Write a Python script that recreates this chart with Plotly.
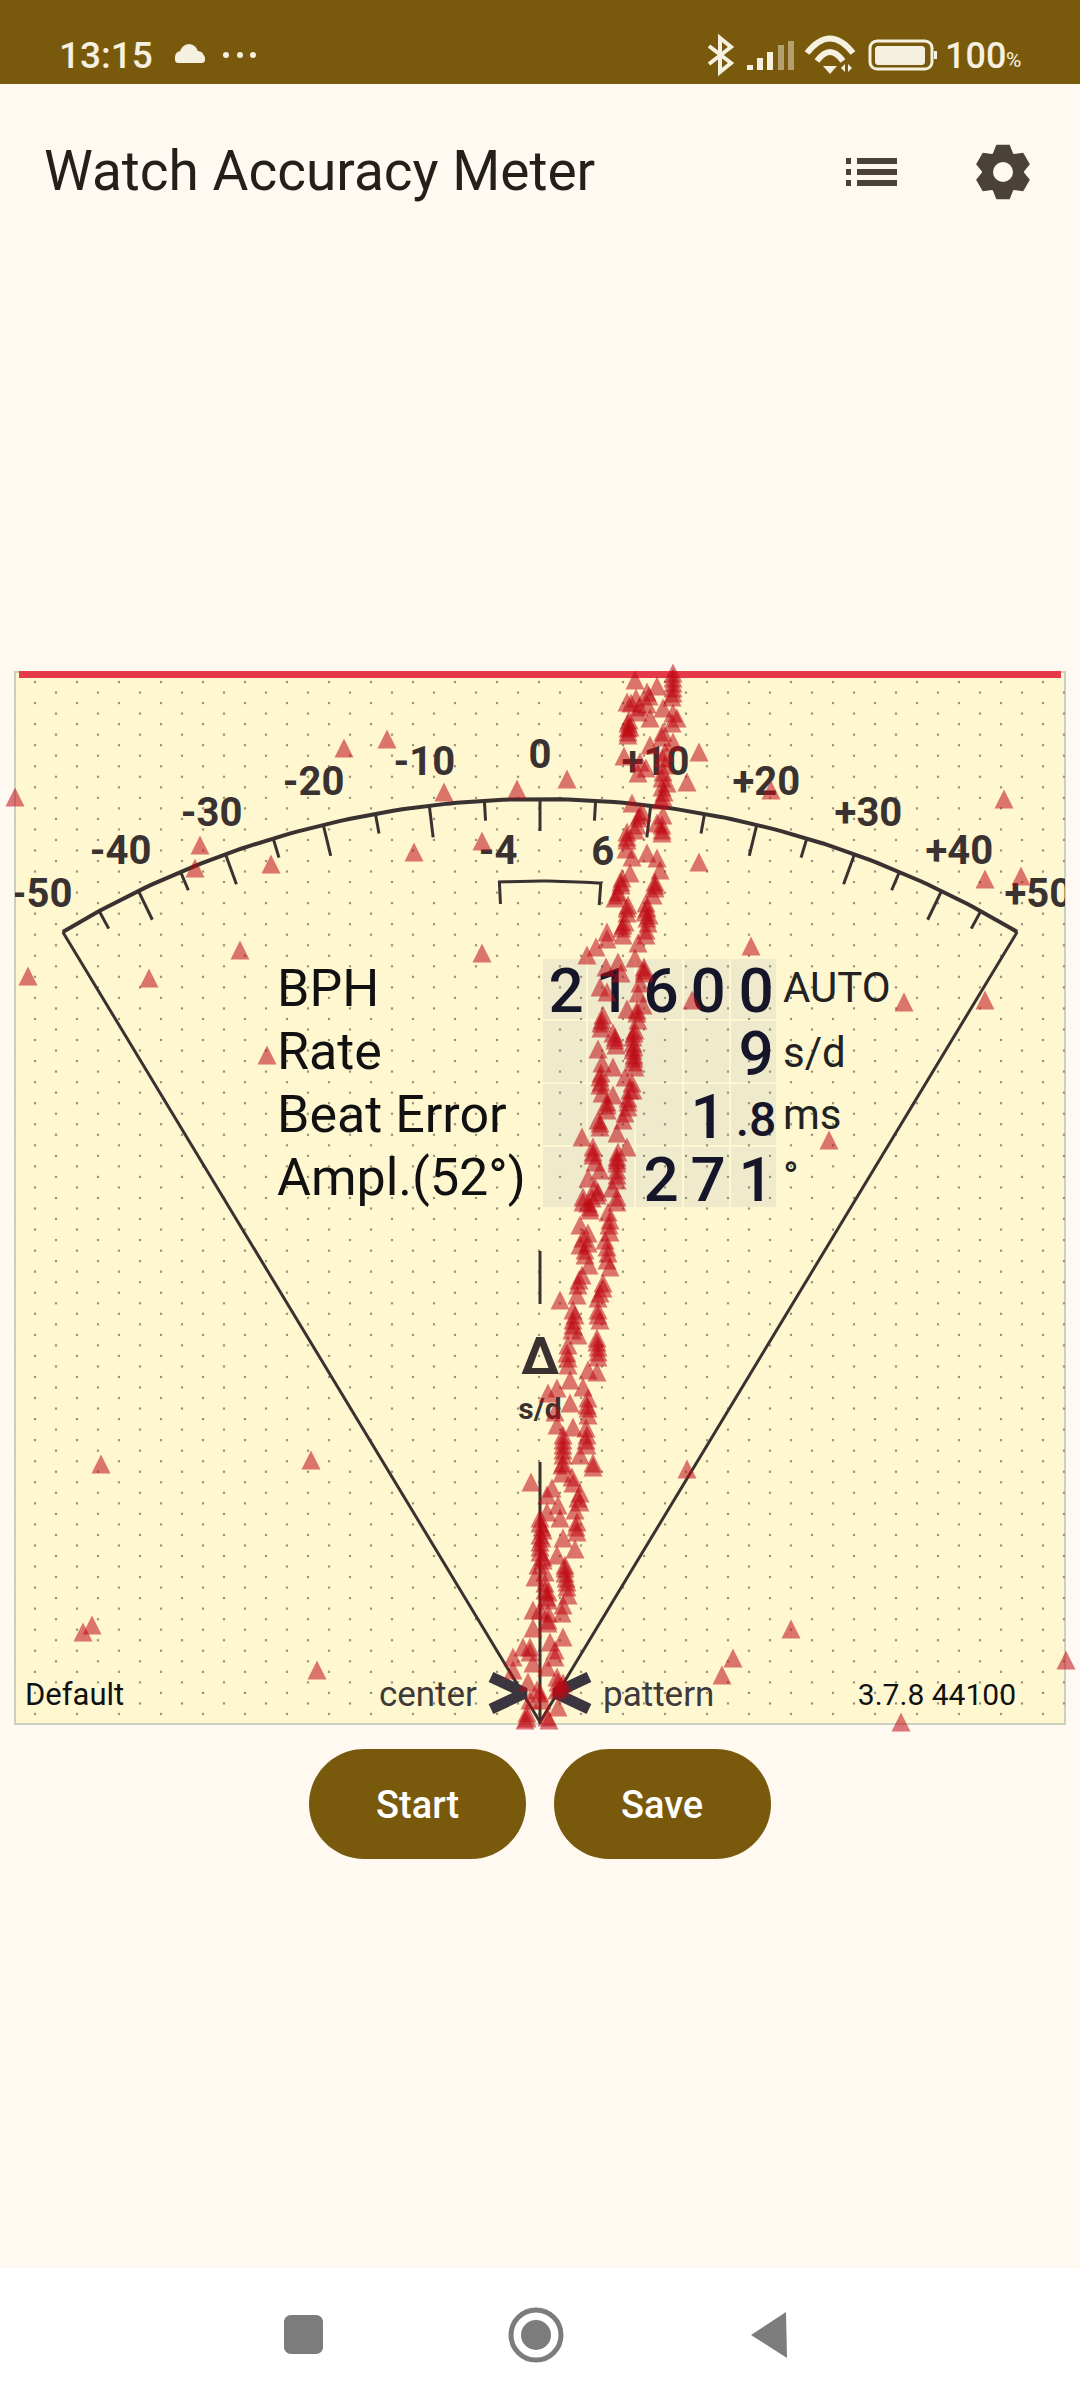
import numpy as np
import plotly.graph_objects as go

# beat marks: offset from the centre line, height above the strip bottom
beat_x = [95,107,117,133,133,133,132,96,87,91,109,107,99,98,110,123,133,137,132,89,88,90,88,123,122,133,110,84,100,106,98,123,125,123,122,127,147,159,27,92,123,121,102,98,97,123,117,122,122,87,87,86,107,92,117,120,90,82,81,78,75,115,115,113,106,105,109,88,87,85,108,82,106,67,159,
          47,56,67,83,106,98,78,95,66,81,104,104,100,98,60,67,87,103,97,98,63,61,61,73,75,76,95,93,93,58,93,94,62,73,95,60,60,85,92,93,62,73,88,67,67,88,85,58,60,83,77,42,53,87,53,55,78,77,60,77,48,77,55,72,77,43,57,
          43,52,50,77,68,70,40,48,70,40,48,65,67,45,67,49,70,42,63,38,37,58,20,33,58,60,33,32,57,38,28,58,27,58,28,48,57,30,43,17,8,48,30,15,48,33,17,23,47,23,47,40,23,53,23,
          53,22,22,32,33,-9,7,12,40,40,18,7,35,20,37,0,3,37,23,2,0,35,17,3,-2,25,5,25,-5,27,5,8,28,-7,8,23,0,8,22,-7,23,10,-17,15,-10,-27,-27,-7,7,-12,17,23,-3,17,-10,2,18,-13,7,-15,9,
          133,133,88,88,125,122,124,100,95,122,87,81,115,78,107,87,107,83,
          104,97,62,75,94,94,94,94,61,61,90,88,67,60,53,77,77,77,58,
          48,50,69,43,45,68,39,63,60,35,58,33,57,58,28,47,48,46,46,23,23,
          0,2,0,0,0,3,25,26,27,5,7,8,8,36,38,-10,15,18,20,0,-13]
beat_y = [1044,1032,1038,1046,1041,1036,1027,1026,1022,1021,1028,1020,1017,1012,1006,1016,1011,1006,1001,1004,996,997,989,992,987,982,979,968,962,956,951,966,959,952,946,941,942,972,945,921,927,924,912,906,899,909,901,899,891,892,884,875,871,867,866,854,851,846,839,832,826,842,836,829,821,812,809,819,811,802,801,796,794,792,862,
          769,777,785,789,789,781,762,766,757,751,757,751,741,731,737,732,715,719,711,704,709,701,696,691,684,679,694,687,681,675,674,666,661,657,657,647,639,647,641,634,631,629,626,622,614,617,611,604,597,604,591,587,577,577,569,562,572,564,554,554,546,544,537,536,527,527,529,
          522,526,514,522,512,504,499,491,492,479,481,484,477,469,464,459,457,449,441,439,429,426,424,414,414,404,404,394,386,389,379,377,371,367,359,354,352,344,337,336,331,326,321,312,309,297,299,289,289,279,279,269,269,261,261,
          257,259,251,247,241,242,229,236,231,222,219,212,214,206,202,201,194,192,186,186,177,175,169,167,159,159,152,151,147,142,141,132,129,114,124,119,114,104,111,96,87,82,77,74,72,67,54,61,57,42,47,41,34,34,24,24,17,11,7,4,4,
          1051,1031,1001,992,972,937,932,909,894,894,887,842,839,829,816,816,806,799,
          754,714,704,687,691,677,669,662,651,642,634,622,619,601,572,567,561,549,532,
          521,517,499,486,474,471,444,436,431,409,409,399,382,372,366,319,316,296,284,284,274,
          206,197,189,182,172,164,156,146,137,134,127,111,101,197,226,77,67,42,37,31,6]

# marks away from the two main strands
stray_x = [-525,-196,-153,-96,-23,231,464,-340,-345,-269,-126,-58,445,481,-300,-58,211,-512,-391,364,445,-273,152,289,-439,-229,147,-448,-457,251,193,182,-223,526,361]
stray_y = [927,976,985,932,935,934,925,879,856,860,872,883,845,848,774,771,778,748,746,722,724,669,724,584,260,264,255,99,92,95,66,49,54,64,2]

# gauge
gauge_labels = [-50,-40,-30,-20,-10,0,10,20,30,40,50]
gauge_minor = [-45,-35,-25,-15,-5,5,15,25,35,45]
gauge_major = [-40,-30,-20,-10,0,10,20,30,40]
bracket_values = [-4, 6]

# read-out table
table_names = ["BPH", "Rate", "Beat Error", "Ampl.(52°)"]
table_units = ["AUTO", "s/d", "ms", "°"]
table_digits = [["2","1","6","0","0"], ["","","","","9"], ["","","","1",""], ["","","2","7","1"]]
small_digit = ".8"

PANEL = "#FFF7D0"
PAGE = "#FFF9F2"
BROWN = "#795A0C"
INK = "#3A3230"
TAN_PER_UNIT = 0.01208
APEX_Y = 2
ROW_Y = [736, 673, 610, 547]
COL_X = [26, 73, 121, 168, 216]


def gauge_xy(rate, r):
    ang = np.arctan(np.asarray(rate, dtype=float) * TAN_PER_UNIT)
    return r * np.sin(ang), APEX_Y + r * np.cos(ang)


def px(x, y):
    return f"{x/1080:.5f},{1-y/2400:.5f}"


def poly(points):
    return "M" + " L".join(px(x, y) for x, y in points) + " Z"


def round_rect(x0, y0, x1, y1, r):
    k = r * 0.45
    return (f"M{px(x0+r,y0)} L{px(x1-r,y0)} C{px(x1-k,y0)} {px(x1,y0+k)} {px(x1,y0+r)} L{px(x1,y1-r)} C{px(x1,y1-k)} {px(x1-k,y1)} {px(x1-r,y1)} "
            f"L{px(x0+r,y1)} C{px(x0+k,y1)} {px(x0,y1-k)} {px(x0,y1-r)} L{px(x0,y0+r)} C{px(x0,y0+k)} {px(x0+k,y0)} {px(x0+r,y0)} Z")


def gear(cx, cy, outer, inner):
    pts = []
    for k in range(6):
        a = np.pi / 3 * k - np.pi / 2
        for da, r in [(-0.50, inner), (-0.24, outer), (0.24, outer), (0.50, inner)]:
            pts.append((cx + r * np.cos(a + da), cy + r * np.sin(a + da)))
    return poly(pts)


shapes = []


def add_path(path, fill=None, line=None, width=0):
    shapes.append(dict(type="path", path=path, xref="paper", yref="paper", layer="below",
                       fillcolor=fill or "rgba(0,0,0,0)", line=dict(color=line or "rgba(0,0,0,0)", width=width)))


def add_circle(cx, cy, rx, ry, fill=None, line=None, width=0):
    shapes.append(dict(type="circle", xref="paper", yref="paper", layer="below",
                       x0=(cx-rx)/1080, x1=(cx+rx)/1080, y0=1-(cy+ry)/2400, y1=1-(cy-ry)/2400,
                       fillcolor=fill or "rgba(0,0,0,0)", line=dict(color=line or "rgba(0,0,0,0)", width=width)))


# page furniture
add_path(poly([(0,0),(1080,0),(1080,84),(0,84)]), BROWN)
add_path(poly([(0,2268),(1080,2268),(1080,2400),(0,2400)]), "#FFFFFF")
add_path(poly([(15,672),(1065,672),(1065,1724),(15,1724)]), PANEL, "#C9D1BF", 2)
add_path(poly([(19,671),(1061,671),(1061,678),(19,678)]), "#E5394A")
cell_x = [542,587,635,683,730,777]
cell_y = [958,1020,1083,1146,1208]
for i in range(5):
    for j in range(4):
        add_path(poly([(cell_x[i]+1,cell_y[j]+1),(cell_x[i+1]-1,cell_y[j]+1),(cell_x[i+1]-1,cell_y[j+1]-1),(cell_x[i]+1,cell_y[j+1]-1)]), "#F0EACD")
add_path(round_rect(309,1749,526,1859,55), BROWN)
add_path(round_rect(554,1749,771,1859,55), BROWN)

# status icons
CREAM = "#F6F0E0"
add_circle(181,57,6,6,CREAM)
add_circle(189,53,9,9,CREAM)
add_circle(198,57,6,6,CREAM)
add_path(round_rect(175,55,205,63,3), CREAM)
for dot in [226,240,253]:
    add_circle(dot,55,3,3,CREAM)
add_path("M"+px(709,46)+" L"+px(731,63)+" L"+px(720,72)+" L"+px(720,38)+" L"+px(731,47)+" L"+px(709,64), None, CREAM, 4)
for x0, top, col in [(747,65,CREAM),(757,58,CREAM),(767,52,CREAM),(778,45,"#B3A06E"),(788,41,"#B3A06E")]:
    add_path(poly([(x0,top),(x0+6,top),(x0+6,70),(x0,70)]), col)
add_path("M"+px(807,53)+" Q"+px(830,24)+" "+px(853,53), None, CREAM, 6)
add_path("M"+px(817,61)+" Q"+px(830,43)+" "+px(843,61), None, CREAM, 6)
add_path(poly([(823,66),(837,66),(830,74)]), CREAM)
add_path(poly([(841,68),(845,64),(845,72)]), CREAM)
add_path(poly([(848,64),(852,68),(848,72)]), CREAM)
add_path(round_rect(870,41,932,69,7), None, CREAM, 3)
add_path(round_rect(875,46,925,65,3), CREAM)
add_path(poly([(934,51),(937,51),(937,59),(934,59)]), CREAM)

# toolbar icons
for ly in [161,172,183]:
    add_path(poly([(846,ly-3),(851,ly-3),(851,ly+3),(846,ly+3)]), "#4A4238")
    add_path(poly([(857,ly-3),(897,ly-3),(897,ly+3),(857,ly+3)]), "#4A4238")
add_path(gear(1003,172,28,21), "#4A4238")
add_circle(1003,172,10,10,PAGE)

# nav icons
GREY = "#7C7C7C"
add_path(round_rect(284,2315,323,2354,7), GREY)
add_circle(536,2335,25,25,None,GREY,5)
add_circle(536,2335,15,15,GREY)
add_path(poly([(751,2335),(786,2312),(787,2358)]), GREY)

fig = go.Figure()

# dot paper of the strip
dot_xs, dot_ys = [], []
for k, row in enumerate(np.arange(682, 1720, 10.53)):
    start = 35 if k % 2 == 0 else 14
    for col in np.arange(start, 1066, 42):
        dot_xs.append(col - 540)
        dot_ys.append(1724 - row)
fig.add_trace(go.Scatter(x=dot_xs, y=dot_ys, mode="markers", marker=dict(color="#98947A", size=2.2, symbol="square"), hoverinfo="skip"))

# sector edges and arc
arc_rates = np.linspace(-50, 50, 121)
arc_x, arc_y = gauge_xy(arc_rates, 923)
fig.add_trace(go.Scatter(x=arc_x, y=arc_y, mode="lines", line=dict(color=INK, width=4), hoverinfo="skip"))
fig.add_trace(go.Scatter(x=[arc_x[0], 0, arc_x[-1]], y=[arc_y[0], APEX_Y, arc_y[-1]], mode="lines", line=dict(color=INK, width=3), hoverinfo="skip"))
for ticks, length in [(gauge_major, 32), (gauge_minor, 20)]:
    tx, ty = [], []
    for t in ticks:
        x0, y0 = gauge_xy(t, 923)
        x1, y1 = gauge_xy(t, 923 - length)
        tx += [x0, x1, None]
        ty += [y0, y1, None]
    fig.add_trace(go.Scatter(x=tx, y=ty, mode="lines", line=dict(color=INK, width=3), hoverinfo="skip"))

# bracket for the -4..6 tolerance
br_rates = np.linspace(bracket_values[0], bracket_values[1], 20)
br_x, br_y = gauge_xy(br_rates, 841)
b0x, b0y = gauge_xy(bracket_values[0], 819)
b1x, b1y = gauge_xy(bracket_values[1], 819)
fig.add_trace(go.Scatter(x=[b0x, *br_x, b1x], y=[b0y, *br_y, b1y], mode="lines", line=dict(color=INK, width=3), hoverinfo="skip"))

# centre line, broken around the delta label
fig.add_trace(go.Scatter(x=[0, 0, None, 0, 0], y=[473, 420, None, 262, 0], mode="lines", line=dict(color=INK, width=3), hoverinfo="skip"))

# center / pattern arrows
fig.add_trace(go.Scatter(x=[-49, -15, -49, None, 49, 15, 49], y=[47, 31, 15, None, 47, 31, 15], mode="lines",
                         line=dict(color="#3B3540", width=11), hoverinfo="skip"))


def panel_text(xs, ys, texts, size, color, pos="middle center", weight=400):
    fig.add_trace(go.Scatter(x=xs, y=ys, text=texts, mode="text", textposition=pos, hoverinfo="skip",
                             textfont=dict(family="Roboto", size=size, color=color, weight=weight)))


# gauge labels get clipped at the strip edge like the original
lx, ly = gauge_xy(gauge_labels, 964)
panel_text(list(lx), list(ly), [f"+{v}" if v > 0 else str(v) for v in gauge_labels], 40, INK, weight=700)
bx, by = gauge_xy(bracket_values, 869)
panel_text(list(bx), list(by), ["-4", "6"], 40, INK, weight=700)

panel_text([-263]*4, [y - 4.5 for y in ROW_Y], table_names, 52, "#111111", "middle right")
panel_text([243]*4, [733, 668, 606, 543], table_units, 42, "#222222", "middle right")
dig_x, dig_y, dig_t = [], [], []
for j, row in enumerate(table_digits):
    for i, d in enumerate(row):
        if d:
            dig_x.append(COL_X[i])
            dig_y.append(ROW_Y[j] - 8)
            dig_t.append(d)
panel_text(dig_x, dig_y, dig_t, 62, "#16162A", weight=500)
panel_text([COL_X[4]], [ROW_Y[2]-10], [small_digit], 48, "#16162A", weight=500)

panel_text([0], [363], ["Δ"], 52, INK, weight=700)
panel_text([0], [313], ["s/d"], 30, INK, weight=700)
panel_text([-515], [27], ["Default"], 31, "#111111", "middle right")
panel_text([-63], [27], ["center"], 35, "#3F3A3A", "middle left")
panel_text([63], [27], ["pattern"], 35, "#3F3A3A", "middle right")
panel_text([476], [27], ["3.7.8 44100"], 30, "#111111", "middle left")

# beat triangles sit above everything and may leave the strip
TRI_W = 9.5
TRI_H = 9.5
for x, y in zip(beat_x + stray_x, beat_y + stray_y):
    fig.add_trace(go.Scatter(x=[x-TRI_W, x+TRI_W, x, x-TRI_W], y=[y-TRI_H, y-TRI_H, y+TRI_H, y-TRI_H], mode="lines",
                             fill="toself", fillcolor="rgba(190,10,20,0.55)", line=dict(width=0), hoverinfo="skip",
                             xaxis="x2", yaxis="y2"))


def note(x, y, text, size, color, anchor="left", weight=400):
    return dict(x=x/1080, y=1-y/2400, xref="paper", yref="paper", text=text, showarrow=False, xanchor=anchor, yanchor="middle",
                font=dict(family="Roboto", size=size, color=color, weight=weight))


annotations = [
    note(57, 56, "13:15", 37, CREAM, weight=500),
    note(943, 56, "100", 36, CREAM, weight=500),
    note(1004, 60, "%", 21, CREAM),
    note(42, 171, "Watch Accuracy Meter", 55, "#231F1A"),
    note(417, 1805, "Start", 38, "#FFFFFF", "center", 500),
    note(662, 1805, "Save", 38, "#FFFFFF", "center", 500),
]

fig.update_layout(
    width=1080, height=2400, margin=dict(l=0, r=0, t=0, b=0), showlegend=False,
    paper_bgcolor=PAGE, plot_bgcolor="rgba(0,0,0,0)", shapes=shapes, annotations=annotations,
    xaxis=dict(domain=[15/1080, 1065/1080], range=[-525, 525], visible=False, fixedrange=True),
    yaxis=dict(domain=[1-1724/2400, 1-672/2400], range=[0, 1052], visible=False, fixedrange=True),
    xaxis2=dict(domain=[0, 1], range=[-540, 540], visible=False, anchor="y2", fixedrange=True),
    yaxis2=dict(domain=[0, 1], range=[-676, 1724], visible=False, anchor="x2", fixedrange=True),
)

fig.write_html("out.html", config={"displayModeBar": False},
               post_script="document.body.style.margin='0';document.body.style.background='#FFF9F2';")
